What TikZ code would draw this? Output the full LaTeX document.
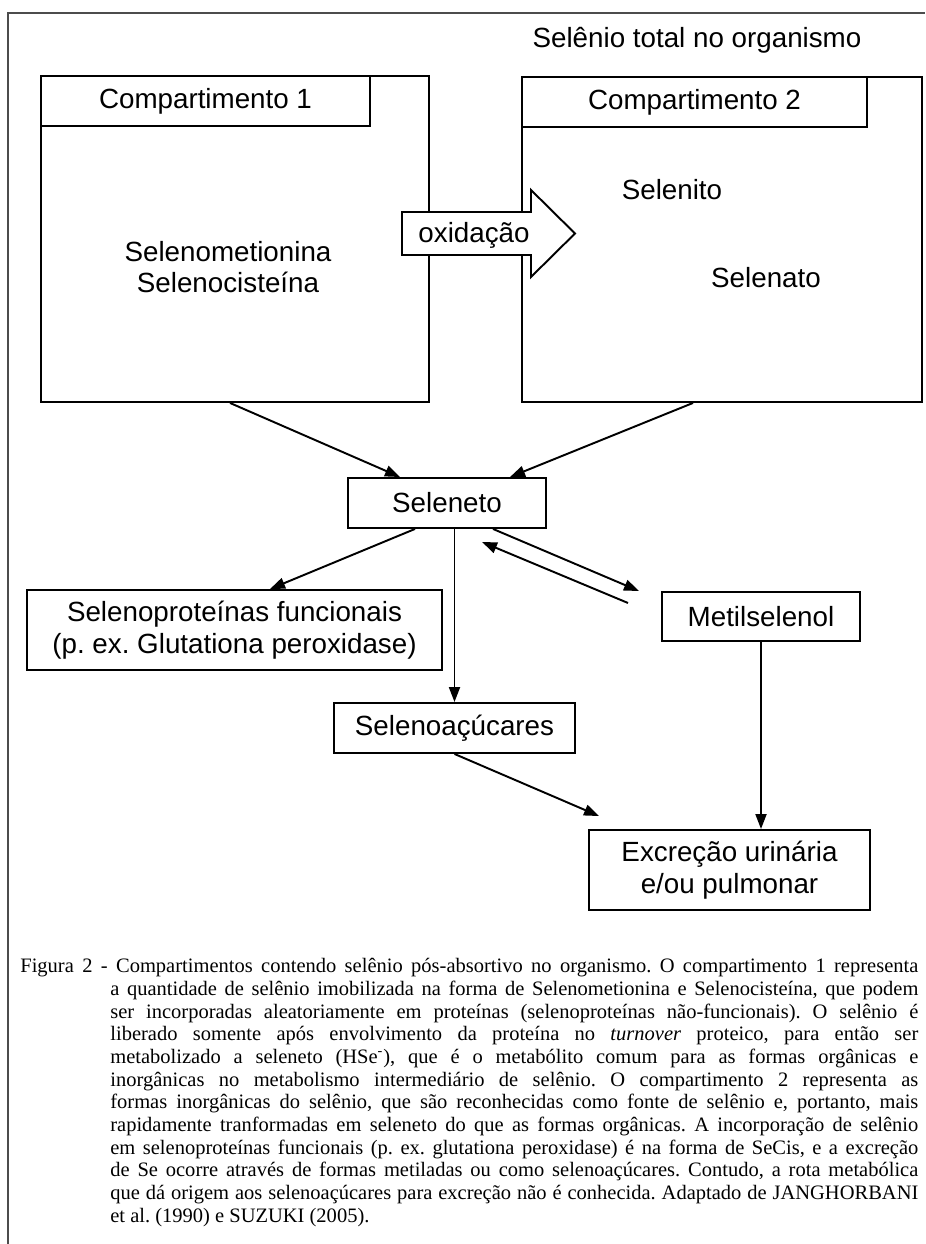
\documentclass[tikz,border=0pt]{standalone}
\usepackage{fontspec}
\setmainfont{Liberation Sans}
\newfontfamily\legendafont{Liberation Serif}
\usetikzlibrary{arrows.meta}
\frenchspacing

\begin{document}
\begin{tikzpicture}[
        every node/.style={font=\fontsize{15.8}{18}\selectfont, align=center},
        caixa/.style={rectangle, draw, line width=1.1pt, inner sep=0pt},
        arr/.style={-{Triangle[length=0.3cm,width=0.22cm]}, line width=1.1pt},
        legenda/.style={font=\legendafont\fontsize{11.67}{12.92}\selectfont, inner sep=0pt}
    ]
        \useasboundingbox (0,0) rectangle (18.5,24.88);
        \draw[black!70, line width=0.8pt] (0.16,0) -- (0.16,24.62) -- (18.5,24.62);

        \node (titulo) at (13.94,24.08) {Selênio total no organismo};

        \node[caixa, minimum width=7.76cm, minimum height=6.52cm] (comp1) at (4.70,20.10) {};
        \node[caixa, minimum width=6.58cm, minimum height=1.0cm, anchor=north west]
            (tit1) at (comp1.north west) {Compartimento 1};
        \node (organicos) at (4.56,19.54) {Selenometionina\\Selenocisteína};

        \node[caixa, minimum width=8.0cm, minimum height=6.5cm] (comp2) at (14.44,20.09) {};
        \node[caixa, minimum width=6.9cm, minimum height=1.0cm, anchor=north west]
            (tit2) at (comp2.north west) {Compartimento 2};
        \node (selenito) at (13.44,21.08) {Selenito};
        \node (selenato) at (15.32,19.32) {Selenato};

        \draw[line width=1.1pt, fill=white] (8.04,20.64) -- (10.62,20.64) -- (10.62,21.08)
            -- (11.50,20.21) -- (10.62,19.34) -- (10.62,19.78) -- (8.04,19.78) -- cycle;
        \node (oxi) at (9.48,20.18) {oxidação};

        \node[caixa, minimum width=3.96cm, minimum height=1.0cm] (seleneto) at (8.94,14.82) {Seleneto};
        \node[caixa, minimum width=8.30cm, minimum height=1.6cm] (proteinas) at (4.69,12.28)
            {Selenoproteínas funcionais\\(p. ex. Glutationa peroxidase)};
        \node[caixa, minimum width=3.96cm, minimum height=0.98cm] (metil) at (15.22,12.55) {Metilselenol};
        \node[caixa, minimum width=4.82cm, minimum height=1.0cm] (acucar) at (9.09,10.32) {Selenoaçúcares};
        \node[caixa, minimum width=5.62cm, minimum height=1.6cm] (excr) at (14.59,7.48)
            {Excreção urinária\\e/ou pulmonar};

        \coordinate (metilponta) at ([xshift=-0.44cm]metil.north west);
        \coordinate (volta1) at (12.56,12.82);
        \coordinate (volta2) at (9.64,14.04);
        \coordinate (excrponta) at ([shift={(0.22,0.26)}]excr.north west);

        \draw[arr] ([xshift=-0.10cm]comp1.south) -- ([xshift=-0.94cm]seleneto.north);
        \draw[arr] ([xshift=-0.58cm]comp2.south) -- ([xshift=1.26cm]seleneto.north);
        \draw[arr] ([xshift=-0.64cm]seleneto.south) -- ([xshift=0.71cm]proteinas.north);
        \draw[arr] (seleneto.south -| acucar.north) -- (acucar.north);
        \draw[arr] ([xshift=0.92cm]seleneto.south) -- (metilponta);
        \draw[arr] (volta1) -- (volta2);
        \draw[arr] (acucar.south) -- (excrponta);
        \draw[arr] (metil.south) -- (metil.south |- excr.north);

        \node[legenda, anchor=north west] (legenda) at (0.40,5.72) {\parbox[t]{17.96cm}{%
            \noindent\hangindent=1.8cm\hangafter=1
            Figura 2 - Compartimentos contendo selênio pós-absortivo no organismo. O compartimento 1 representa\linebreak
            a quantidade de selênio imobilizada na forma de Selenometionina e Selenocisteína, que podem\linebreak
            ser incorporadas aleatoriamente em proteínas (selenoproteínas não-funcionais). O selênio é\linebreak
            liberado somente após envolvimento da proteína no \textit{turnover} proteico, para então ser\linebreak
            metabolizado a seleneto (HSe\textsuperscript{-}), que é o metabólito comum para as formas orgânicas e\linebreak
            inorgânicas no metabolismo intermediário de selênio. O compartimento 2 representa as\linebreak
            formas inorgânicas do selênio, que são reconhecidas como fonte de selênio e, portanto, mais\linebreak
            rapidamente tranformadas em seleneto do que as formas orgânicas. A incorporação de selênio\linebreak
            em selenoproteínas funcionais (p. ex. glutationa peroxidase) é na forma de SeCis, e a excreção\linebreak
            de Se ocorre através de formas metiladas ou como selenoaçúcares. Contudo, a rota metabólica\linebreak
            que dá origem aos selenoaçúcares para excreção não é conhecida. Adaptado de JANGHORBANI\linebreak
            et al. (1990) e SUZUKI (2005).}};
\end{tikzpicture}
\end{document}
